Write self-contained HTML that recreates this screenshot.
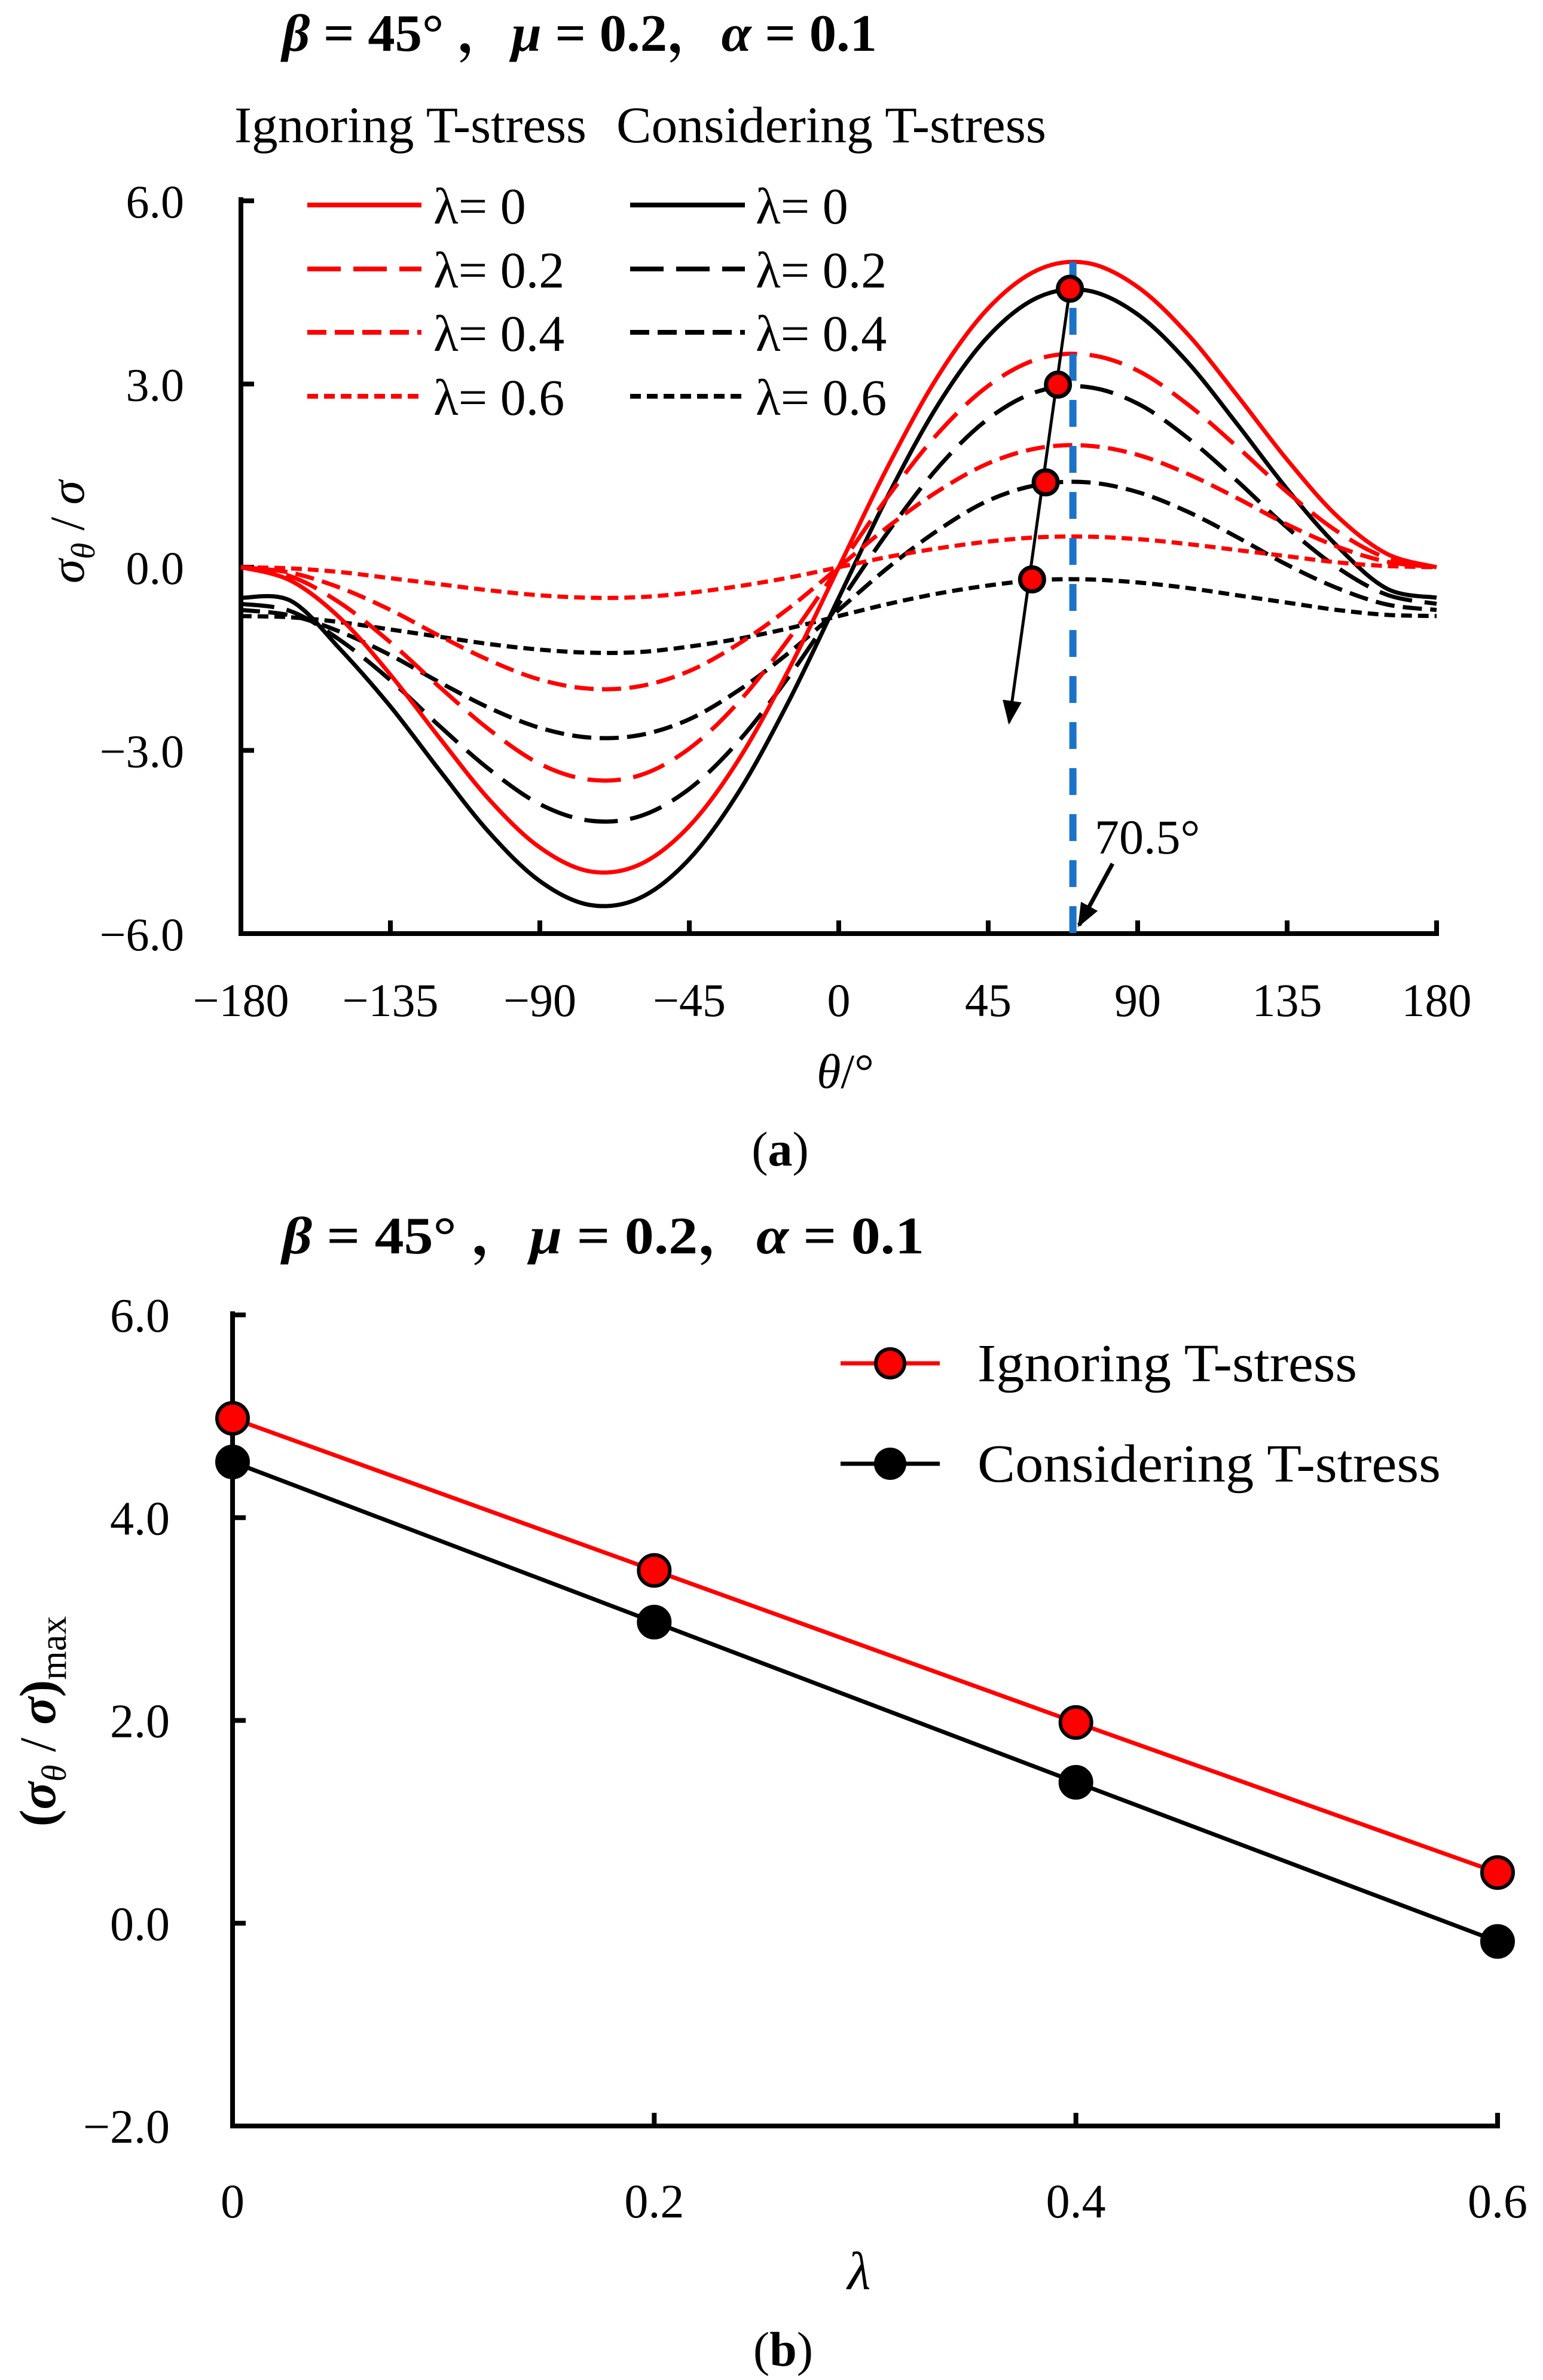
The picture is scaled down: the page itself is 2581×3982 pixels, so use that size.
<!DOCTYPE html>
<html><head><meta charset="utf-8">
<style>
html,body{margin:0;padding:0;background:#fff;}
svg{display:block;}
text{font-family:"Liberation Serif","Noto Serif CJK SC",serif;fill:#000;}
</style></head>
<body>
<svg id="fig" xmlns="http://www.w3.org/2000/svg" width="2581" height="3982" viewBox="0 0 2581 3982">
  <g id="chartA">
    <text x="472" y="85" font-size="88" font-weight="bold" textLength="995" lengthAdjust="spacingAndGlyphs"><tspan font-style="italic">β</tspan> = 45° ，<tspan font-style="italic">μ</tspan> = 0.2，<tspan font-style="italic">α</tspan> = 0.1</text>
    <text x="392" y="238" font-size="86" textLength="589" lengthAdjust="spacingAndGlyphs">Ignoring T-stress</text>
    <text x="1031" y="238" font-size="86" textLength="719" lengthAdjust="spacingAndGlyphs">Considering T-stress</text>
    <text transform="translate(140,890) rotate(-90)" text-anchor="middle" font-size="82" font-style="italic">σ<tspan font-size="56" dy="18">θ</tspan><tspan dy="-18" font-style="normal"> / </tspan>σ</text>
    <text x="1414" y="1820" text-anchor="middle" font-size="82"><tspan font-style="italic">θ</tspan>/°</text>
    <text x="1305" y="1950" text-anchor="middle" font-size="82">(<tspan font-weight="bold">a</tspan>)</text>
  </g>
  <g id="chartB">
    <text x="472" y="2097" font-size="88" font-weight="bold" textLength="1074" lengthAdjust="spacingAndGlyphs"><tspan font-style="italic">β</tspan> = 45° ，<tspan font-style="italic">μ</tspan> = 0.2，<tspan font-style="italic">α</tspan> = 0.1</text>
    <text transform="translate(92,2880) rotate(-90)" text-anchor="middle" font-size="86" font-weight="bold">(<tspan font-style="italic">σ</tspan><tspan font-size="58" dy="18" font-style="italic" font-weight="normal">θ</tspan><tspan dy="-18" font-weight="normal"> / </tspan><tspan font-style="italic">σ</tspan>)<tspan font-size="62" dy="18" font-weight="normal">max</tspan></text>
    <text x="1437" y="3830" text-anchor="middle" font-size="90" font-style="italic">λ</text>
    <text x="1310" y="3958" text-anchor="middle" font-size="82">(<tspan font-weight="bold">b</tspan>)</text>
  </g>
</svg>
<script>
// ---------- Chart (a) data ----------
const thetaDeg = [-180,-165,-150,-135,-120,-105,-90,-75,-60,-45,-30,-15,0,15,30,45,60,75,90,105,120,135,150,165,180];
const xTicksA = [-180,-135,-90,-45,0,45,90,135,180];
const xTickLabelsA = ["−180","−135","−90","−45","0","45","90","135","180"];
const yTicksA = [6,3,0,-3,-6];
const yTickLabelsA = ["6.0","3.0","0.0","−3.0","−6.0"];
const lambdaLabels = ["λ= 0","λ= 0.2","λ= 0.4","λ= 0.6"];
const ignore0  = [0,-0.22,-0.84,-1.76,-2.81,-3.82,-4.59,-4.98,-4.87,-4.24,-3.14,-1.67,0,1.67,3.14,4.24,4.87,4.98,4.59,3.82,2.81,1.76,0.84,0.22,0];
const ignore02 = [0,-0.15,-0.59,-1.23,-1.97,-2.67,-3.22,-3.48,-3.41,-2.97,-2.20,-1.17,0,1.17,2.20,2.97,3.41,3.48,3.22,2.67,1.97,1.23,0.59,0.15,0];
const ignore04 = [0,-0.09,-0.34,-0.70,-1.13,-1.53,-1.84,-1.99,-1.95,-1.70,-1.25,-0.67,0,0.67,1.25,1.70,1.95,1.99,1.84,1.53,1.13,0.70,0.34,0.09,0];
const ignore06 = [0,-0.02,-0.08,-0.18,-0.28,-0.38,-0.46,-0.50,-0.49,-0.42,-0.31,-0.17,0,0.17,0.31,0.42,0.49,0.50,0.46,0.38,0.28,0.18,0.08,0.02,0];
const consider0  = [-0.5,-0.55,-1.35,-2.28,-3.34,-4.36,-5.14,-5.53,-5.42,-4.78,-3.67,-2.19,-0.5,1.19,2.67,3.78,4.42,4.53,4.14,3.36,2.34,1.28,0.35,-0.35,-0.5];
const consider02 = [-0.6,-0.72,-1.2,-1.85,-2.61,-3.32,-3.88,-4.15,-4.08,-3.63,-2.84,-1.79,-0.6,0.59,1.64,2.43,2.88,2.95,2.68,2.12,1.41,0.65,0.0,-0.45,-0.6];
const consider04 = [-0.7,-0.79,-1.06,-1.44,-1.89,-2.31,-2.63,-2.79,-2.75,-2.49,-2.01,-1.40,-0.7,0.0,0.61,1.09,1.35,1.39,1.23,0.91,0.49,0.04,-0.34,-0.61,-0.7];
const consider06 = [-0.8,-0.82,-0.9,-1.02,-1.14,-1.26,-1.35,-1.40,-1.39,-1.30,-1.17,-1.0,-0.8,-0.6,-0.43,-0.3,-0.21,-0.2,-0.25,-0.34,-0.46,-0.58,-0.7,-0.78,-0.8];
const peakTheta = [69.6,66,62.3,58.2];
const peakValue = [4.56,2.99,1.39,-0.2];
const arrowEnd = [51.3,-2.54];
const criticalAngle = 70.5;
const criticalLabel = "70.5°";

// ---------- Chart (b) data ----------
const lambdaVals = [0,0.2,0.4,0.6];
const xTickLabelsB = ["0","0.2","0.4","0.6"];
const yTicksB = [6,4,2,0,-2];
const yTickLabelsB = ["6.0","4.0","2.0","0.0","−2.0"];
const maxIgnoring = [4.98,3.48,1.98,0.5];
const maxConsidering = [4.55,2.97,1.39,-0.18];
const legendB = ["Ignoring T-stress","Considering T-stress"];

const NS = "http://www.w3.org/2000/svg";
const svg = document.getElementById('fig');
const gA = document.getElementById('chartA');
const gB = document.getElementById('chartB');
function mk(tag, attrs, parent){
  const e = document.createElementNS(NS, tag);
  for (const k in attrs) e.setAttribute(k, attrs[k]);
  parent.appendChild(e);
  return e;
}
const AX0=403, AX1=2403, AY6=336, AYm6=1562;
const xA = t => AX0 + (t+180)/360*(AX1-AX0);
const yA = v => AY6 + (6-v)/12*(AYm6-AY6);
const BX0=389, BX1=2505, BY6=2200, BYm2=3557;
const xB = l => BX0 + l/0.6*(BX1-BX0);
const yB = v => BY6 + (6-v)/8*(BYm2-BY6);

function smoothPath(xs, ys){
  let d = `M${xs[0]},${ys[0]}`;
  for (let i=0;i<xs.length-1;i++){
    const x0=xs[Math.max(i-1,0)], y0=ys[Math.max(i-1,0)];
    const x1=xs[i], y1=ys[i], x2=xs[i+1], y2=ys[i+1];
    const x3=xs[Math.min(i+2,xs.length-1)], y3=ys[Math.min(i+2,xs.length-1)];
    const c1x=x1+(x2-x0)/6, c1y=y1+(y2-y0)/6, c2x=x2-(x3-x1)/6, c2y=y2-(y3-y1)/6;
    d += ` C${c1x.toFixed(1)},${c1y.toFixed(1)} ${c2x.toFixed(1)},${c2y.toFixed(1)} ${x2.toFixed(1)},${y2.toFixed(1)}`;
  }
  return d;
}

const axA = mk('g',{},gA);


const yAxisA = mk('line',{x1:AX0,y1:AY6-6,x2:AX0,y2:AYm6+4,stroke:'#000','stroke-width':8},axA);


const xAxisA = mk('line',{x1:AX0-4,y1:AYm6,x2:AX1+4,y2:AYm6,stroke:'#000','stroke-width':8},axA);


xTicksA.forEach((t,i)=>{
  const tk = mk('line',{x1:xA(t),y1:AYm6,x2:xA(t),y2:AYm6-22,stroke:'#000','stroke-width':8},axA);
  
  
  const lb = mk('text',{x:xA(t),y:1700,'text-anchor':'middle','font-size':78},axA);
  
  
  lb.textContent = xTickLabelsA[i];
});
yTicksA.forEach((v,i)=>{
  const tk = mk('line',{x1:AX0,y1:yA(v),x2:AX0+22,y2:yA(v),stroke:'#000','stroke-width':8},axA);
  
  
  const lb = mk('text',{x:308,y:yA(v)+28,'text-anchor':'end','font-size':78},axA);
  
  
  lb.textContent = yTickLabelsA[i];
});

const dashes = ['none','56 21','32 14','18 10'];
const ignSeries = [ignore0,ignore02,ignore04,ignore06];
const conSeries = [consider0,consider02,consider04,consider06];
const xsA = thetaDeg.map(xA);
function drawCurve(vals, color, dash, name){
  const p = mk('path',{d:smoothPath(xsA, vals.map(yA)),fill:'none',stroke:color,'stroke-width':7,'stroke-dasharray':dash},gA);
  
  
}
conSeries.forEach((s,i)=>drawCurve(s,'#000',dashes[i],'considering-curve-'+i));
ignSeries.forEach((s,i)=>drawCurve(s,'#ff0000',dashes[i],'ignoring-curve-'+i));

const crit = mk('line',{x1:xA(criticalAngle),y1:yA(5.0),x2:xA(criticalAngle),y2:AYm6,stroke:'#1a73c8','stroke-width':12,'stroke-dasharray':'45 32'},gA);


const critLbl = mk('text',{x:1831,y:1428,'font-size':82},gA);


critLbl.textContent = criticalLabel;

const defs = mk('defs',{},svg);
const mkr = mk('marker',{id:'ah',viewBox:'0 0 10 10',refX:9,refY:5,markerWidth:40,markerHeight:40,orient:'auto',markerUnits:'userSpaceOnUse'},defs);
mk('path',{d:'M0,1 L10,5 L0,9 Z',fill:'#000'},mkr);
const critArrow = mk('line',{x1:1861,y1:1445,x2:1805,y2:1548,stroke:'#000','stroke-width':7,'marker-end':'url(#ah)'},gA);



const trend = mk('line',{x1:xA(peakTheta[0]),y1:yA(peakValue[0]),x2:xA(arrowEnd[0]),y2:yA(arrowEnd[1]),stroke:'#000','stroke-width':5,'marker-end':'url(#ah)'},gA);


peakTheta.forEach((t,i)=>{
  const c = mk('circle',{cx:xA(t),cy:yA(peakValue[i]),r:20,fill:'#ff0000',stroke:'#000','stroke-width':7},gA);
  
  
});

const legRowY = [343,450,556,663];
lambdaLabels.forEach((lab,i)=>{
  const l1 = mk('line',{x1:514,y1:legRowY[i],x2:705,y2:legRowY[i],stroke:'#ff0000','stroke-width':8,'stroke-dasharray':dashes[i]},gA);
  
  
  const t1 = mk('text',{x:725,y:legRowY[i]+31,'font-size':86},gA);
  
  
  t1.textContent = lab;
  const l2 = mk('line',{x1:1054,y1:legRowY[i],x2:1246,y2:legRowY[i],stroke:'#000','stroke-width':8,'stroke-dasharray':dashes[i]},gA);
  
  
  const t2 = mk('text',{x:1264,y:legRowY[i]+31,'font-size':86},gA);
  
  
  t2.textContent = lab;
});

const axB = mk('g',{},gB);


const yAxisB = mk('line',{x1:BX0,y1:BY6-6,x2:BX0,y2:BYm2+4,stroke:'#000','stroke-width':8},axB);


const xAxisB = mk('line',{x1:BX0-4,y1:BYm2,x2:BX1+4,y2:BYm2,stroke:'#000','stroke-width':8},axB);


lambdaVals.forEach((l,i)=>{
  const tk = mk('line',{x1:xB(l),y1:BYm2,x2:xB(l),y2:BYm2-22,stroke:'#000','stroke-width':8},axB);
  
  
  const lb = mk('text',{x:xB(l),y:3710,'text-anchor':'middle','font-size':80},axB);
  
  
  lb.textContent = xTickLabelsB[i];
});
yTicksB.forEach((v,i)=>{
  const tk = mk('line',{x1:BX0,y1:yB(v),x2:BX0+22,y2:yB(v),stroke:'#000','stroke-width':8},axB);
  
  
  const lb = mk('text',{x:284,y:yB(v)+28,'text-anchor':'end','font-size':80},axB);
  
  
  lb.textContent = yTickLabelsB[i];
});
function drawSeriesB(vals, color, name){
  const pts = lambdaVals.map((l,i)=>`${xB(l)},${yB(vals[i])}`).join(' ');
  const pl = mk('polyline',{points:pts,fill:'none',stroke:color,'stroke-width':7},gB);
  
  
  lambdaVals.forEach((l,i)=>{
    const c = mk('circle',{cx:xB(l),cy:yB(vals[i]),r:26,fill:color,stroke:'#000','stroke-width':6},gB);
    
    
  });
}
drawSeriesB(maxIgnoring,'#ff0000','ignoring');
drawSeriesB(maxConsidering,'#000','considering');
const legBY = [2281,2449];
const legBCol = ['#ff0000','#000'];
legendB.forEach((lab,i)=>{
  const l = mk('line',{x1:1406,y1:legBY[i],x2:1572,y2:legBY[i],stroke:legBCol[i],'stroke-width':7},gB);
  
  
  const c = mk('circle',{cx:1489,cy:legBY[i],r:24,fill:legBCol[i],stroke:'#000','stroke-width':6},gB);
  
  
  const t = mk('text',{x:1635,y:legBY[i]+30,'font-size':90,textLength:(i===0?635:775),lengthAdjust:'spacingAndGlyphs'},gB);
  
  
  t.textContent = lab;
});
</script>
</body></html>
